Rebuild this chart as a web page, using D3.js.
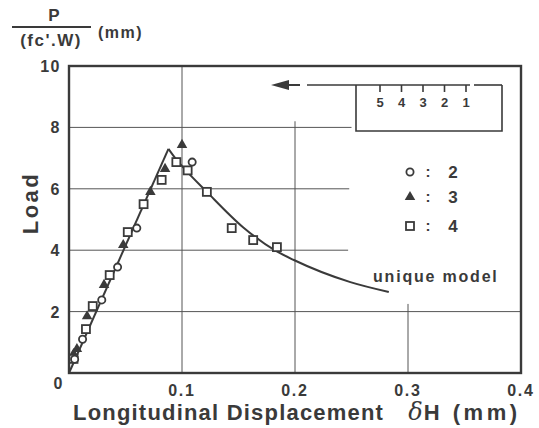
<!DOCTYPE html>
<html>
<head>
<meta charset="utf-8">
<script src="https://cdn.jsdelivr.net/npm/d3@7"></script>
<style>
body { margin: 0; background: #fff; }
text { font-family: "Liberation Sans", Arial, sans-serif; font-weight: bold; fill: #3a3a3a; }
</style>
</head>
<body>
<div id="chart"></div>
<script>
// data
var xTicks = [0.1, 0.2, 0.3, 0.4];
var yTicks = [2, 4, 6, 8, 10];

var circ2 = [[0.005, 0.45], [0.012, 1.1], [0.029, 2.38], [0.043, 3.45], [0.060, 4.72], [0.109, 6.87]];
var tri3 = [[0.004, 0.62], [0.007, 0.78], [0.016, 1.85], [0.031, 2.87], [0.048, 4.17], [0.072, 5.9], [0.085, 6.65], [0.100, 7.43]];
var sq4 = [[0.004, 0.46], [0.015, 1.43], [0.021, 2.18], [0.036, 3.19], [0.052, 4.59], [0.066, 5.5], [0.082, 6.29],
           [0.095, 6.87], [0.105, 6.6], [0.122, 5.9], [0.144, 4.72], [0.163, 4.33], [0.184, 4.1]];

var modelUp = [[0, 0], [0.088, 7.3]];
var modelDown = [[0.088, 7.3], [0.094, 7.0], [0.101, 6.7], [0.122, 5.9], [0.154, 4.75], [0.182, 4.0],
                 [0.199, 3.68], [0.249, 2.96], [0.283, 2.64]];

var legendItems = [["circle", "2"], ["triangle", "3"], ["square", "4"]];
var stationLabels = ["5", "4", "3", "2", "1"];

var svgWidth = 539, svgHeight = 428;
var x0 = 69, x1 = 521, y0 = 373, y1 = 66;

var svg = d3.select("#chart").append("svg")
    .attr("width", svgWidth)
    .attr("height", svgHeight);

var x = d3.scaleLinear().domain([0, 0.4]).range([x0, x1]);
var y = d3.scaleLinear().domain([0, 10]).range([y0, y1]);

var ink = "#3a3a3a";

// gridlines (some are cut short around the legend)
var hGrid = [[2, 0, 0.4], [4, 0, 0.247], [6, 0, 0.248], [8, 0, 0.25]];
var vGrid = [[0.1, 0, 10], [0.2, 0, 8.2], [0.3, 0, 2.25]];

svg.selectAll(".hgrid").data(hGrid).enter().append("line")
    .attr("x1", d => x(d[1])).attr("x2", d => x(d[2]))
    .attr("y1", d => y(d[0])).attr("y2", d => y(d[0]))
    .attr("stroke", "#555").attr("stroke-width", 1);

svg.selectAll(".vgrid").data(vGrid).enter().append("line")
    .attr("x1", d => x(d[0])).attr("x2", d => x(d[0]))
    .attr("y1", d => y(d[1])).attr("y2", d => y(d[2]))
    .attr("stroke", "#555").attr("stroke-width", 1);

// frame
svg.append("rect")
    .attr("x", x0).attr("y", y1)
    .attr("width", x1 - x0).attr("height", y0 - y1)
    .attr("fill", "none").attr("stroke", ink).attr("stroke-width", 2.4);

// tick labels
svg.selectAll(".ylab").data(yTicks).enter().append("text")
    .attr("x", 61).attr("y", d => y(d) + 6)
    .attr("text-anchor", "end")
    .style("font-size", "16px").style("letter-spacing", "1.5px")
    .text(d => d);

// shared origin label
svg.append("text").attr("x", 58).attr("y", 389)
    .attr("text-anchor", "middle").style("font-size", "16px").text("0");

svg.selectAll(".xlab").data(xTicks).enter().append("text")
    .attr("x", d => x(d)).attr("y", 396)
    .attr("text-anchor", "middle")
    .style("font-size", "16px").style("letter-spacing", "1.8px")
    .text(d => d3.format(".1f")(d));

// axis titles
svg.append("text")
    .attr("transform", "translate(38, 203) rotate(-90)")
    .attr("text-anchor", "middle")
    .style("font-size", "22px").style("letter-spacing", "2.5px")
    .text("Load");

var xt = svg.append("text").attr("x", 73).attr("y", 420)
    .style("font-size", "22px").style("letter-spacing", "1.2px");
xt.append("tspan").text("Longitudinal Displacement");
xt.append("tspan").attr("dx", 24).style("font-weight", "normal").style("font-family", "DejaVu Serif")
    .style("font-style", "italic").style("font-size", "24px").text("δ");
xt.append("tspan").style("letter-spacing", "3.5px").text("H (mm)");

// top-left unit label
svg.append("text").attr("x", 54).attr("y", 21).attr("text-anchor", "middle").style("font-size", "17px").text("P");
svg.append("line").attr("x1", 12).attr("x2", 91).attr("y1", 27).attr("y2", 27)
    .attr("stroke", ink).attr("stroke-width", 1.8);
svg.append("text").attr("x", 51).attr("y", 46).attr("text-anchor", "middle")
    .style("font-size", "17px").style("letter-spacing", "1.5px").text("(fc'.W)");
svg.append("text").attr("x", 98).attr("y", 38)
    .style("font-size", "16px").style("letter-spacing", "1.5px").text("(mm)");

// model curve
var line = d3.line().x(d => x(d[0])).y(d => y(d[1]));
svg.append("path").datum(modelUp)
    .attr("d", line).attr("fill", "none").attr("stroke", ink).attr("stroke-width", 2);
svg.append("path").datum(modelDown)
    .attr("d", line.curve(d3.curveMonotoneX)).attr("fill", "none").attr("stroke", ink).attr("stroke-width", 2);

svg.append("text").attr("x", 373).attr("y", 282)
    .style("font-size", "16px").style("letter-spacing", "1.8px").text("unique model");

// markers
function drawMarker(g, type, cx, cy) {
    if (type == "circle") {
        g.append("circle").attr("cx", cx).attr("cy", cy).attr("r", 3.6)
            .attr("fill", "#fff").attr("stroke", ink).attr("stroke-width", 1.8);
    } else if (type == "triangle") {
        g.append("path").attr("d", d3.symbol(d3.symbolTriangle, 48)())
            .attr("transform", `translate(${cx},${cy})`).attr("fill", ink);
    } else {
        g.append("rect").attr("x", cx - 4).attr("y", cy - 4).attr("width", 8).attr("height", 8)
            .attr("fill", "#fff").attr("stroke", ink).attr("stroke-width", 1.8);
    }
}

var marks = svg.append("g");
tri3.forEach(d => drawMarker(marks, "triangle", x(d[0]), y(d[1])));
sq4.forEach(d => drawMarker(marks, "square", x(d[0]), y(d[1])));
circ2.forEach(d => drawMarker(marks, "circle", x(d[0]), y(d[1])));

// legend
var legY = [172, 197, 226];
legendItems.forEach(function(d, i) {
    drawMarker(svg, d[0], 410, legY[i]);
    svg.append("text").attr("x", 428).attr("y", legY[i] + 5).attr("text-anchor", "middle").style("font-size", "15px").text(":");
    svg.append("text").attr("x", 453).attr("y", legY[i] + 6).attr("text-anchor", "middle").style("font-size", "17px").text(d[1]);
});

// loading station sketch in upper right
var st = svg.append("g").attr("stroke", ink).attr("fill", "none");
st.append("path").attr("d", "M356,85 L356,131 L502,131 L502,85")
    .attr("stroke-width", 1.6);
st.append("line").attr("x1", 307).attr("x2", 470).attr("y1", 85).attr("y2", 85).attr("stroke-width", 1.6);
st.append("line").attr("x1", 474).attr("x2", 502).attr("y1", 85).attr("y2", 85).attr("stroke-width", 1.6);
st.append("line").attr("x1", 286).attr("x2", 300).attr("y1", 85).attr("y2", 85).attr("stroke-width", 2);
st.append("path").attr("d", "M271,85 L289,80 L289,90 Z").attr("fill", ink).attr("stroke", "none");

var stX = d3.scalePoint().domain(stationLabels).range([380, 466]);
stationLabels.forEach(function(s) {
    st.append("line").attr("x1", stX(s)).attr("x2", stX(s)).attr("y1", 85).attr("y2", 92).attr("stroke-width", 1.6);
    svg.append("text").attr("x", stX(s)).attr("y", 107).attr("text-anchor", "middle").style("font-size", "13px").text(s);
});
</script>
</body>
</html>
